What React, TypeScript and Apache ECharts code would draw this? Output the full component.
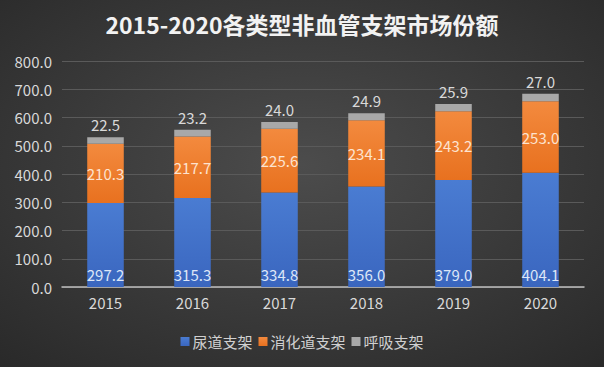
import React, { useEffect, useRef } from "react";
import * as echarts from "echarts";

const years = ["2015", "2016", "2017", "2018", "2019", "2020"];
const urinary = [297.2, 315.3, 334.8, 356.0, 379.0, 404.1];
const digestive = [210.3, 217.7, 225.6, 234.1, 243.2, 253.0];
const respiratory = [22.5, 23.2, 24.0, 24.9, 25.9, 27.0];

const FONT = "'Noto Sans CJK SC', 'Noto Sans', sans-serif";

export default function App() {
  const ref = useRef<HTMLDivElement>(null);
  useEffect(() => {
    document.body.style.margin = "0";
    const chart = echarts.init(ref.current!, null, { renderer: "svg" });
    const fmt = (p: any) => Number(p.value).toFixed(1);
    chart.setOption({
      animation: false,
      backgroundColor: {
        type: "radial",
        x: 0.5,
        y: 0.45,
        r: 0.75,
        colorStops: [
          { offset: 0, color: "#4c4c4c" },
          { offset: 1, color: "#292929" },
        ],
      },
      textStyle: { fontFamily: FONT },
      title: {
        text: "2015-2020各类型非血管支架市场份额",
        left: "center",
        top: 7,
        textStyle: { color: "#f2f2f2", fontSize: 23, fontWeight: "bold", fontFamily: FONT },
      },
      legend: {
        bottom: 13,
        left: "center",
        itemWidth: 9,
        itemHeight: 9,
        itemGap: 6,
        icon: "rect",
        textStyle: { color: "#d0d0d0", fontSize: 15, fontFamily: FONT, padding: [0, 0, 0, -2] },
        data: ["尿道支架", "消化道支架", "呼吸支架"],
      },
      grid: { left: 62, right: 20, top: 61, bottom: 80 },
      xAxis: {
        type: "category",
        data: years,
        axisLine: { lineStyle: { color: "#bfbfbf", width: 1.5 } },
        axisTick: { show: false },
        axisLabel: { color: "#d9d9d9", fontSize: 15, margin: 8, fontFamily: FONT },
      },
      yAxis: {
        type: "value",
        min: 0,
        max: 800,
        interval: 100,
        axisLabel: {
          color: "#d9d9d9",
          fontSize: 15,
          margin: 10,
          fontFamily: FONT,
          formatter: (v: number) => v.toFixed(1),
        },
        splitLine: { lineStyle: { color: "#5a5a5a", width: 1 } },
        axisLine: { show: false },
        axisTick: { show: false },
      },
      series: [
        {
          name: "尿道支架",
          type: "bar",
          stack: "total",
          barWidth: "42%",
          data: urinary,
          itemStyle: {
            color: new echarts.graphic.LinearGradient(0, 0, 0, 1, [
              { offset: 0, color: "#4a7cd2" },
              { offset: 1, color: "#3a66bf" },
            ]),
          },
          label: {
            show: true,
            position: "insideBottom",
            distance: 5,
            color: "#dde6f7",
            fontSize: 15,
            fontFamily: FONT,
            formatter: fmt,
          },
        },
        {
          name: "消化道支架",
          type: "bar",
          stack: "total",
          data: digestive,
          itemStyle: {
            color: new echarts.graphic.LinearGradient(0, 0, 0, 1, [
              { offset: 0, color: "#f38a3e" },
              { offset: 1, color: "#e8711f" },
            ]),
          },
          label: {
            show: true,
            position: "inside",
            color: "#fde3cf",
            fontSize: 15,
            fontFamily: FONT,
            formatter: fmt,
          },
        },
        {
          name: "呼吸支架",
          type: "bar",
          stack: "total",
          data: respiratory,
          itemStyle: { color: "#a8a8a8" },
          label: {
            show: true,
            position: "top",
            distance: 5,
            color: "#d9d9d9",
            fontSize: 15,
            fontFamily: FONT,
            formatter: fmt,
          },
        },
      ],
    });
    return () => chart.dispose();
  }, []);
  return <div ref={ref} style={{ width: 604, height: 367 }} />;
}
